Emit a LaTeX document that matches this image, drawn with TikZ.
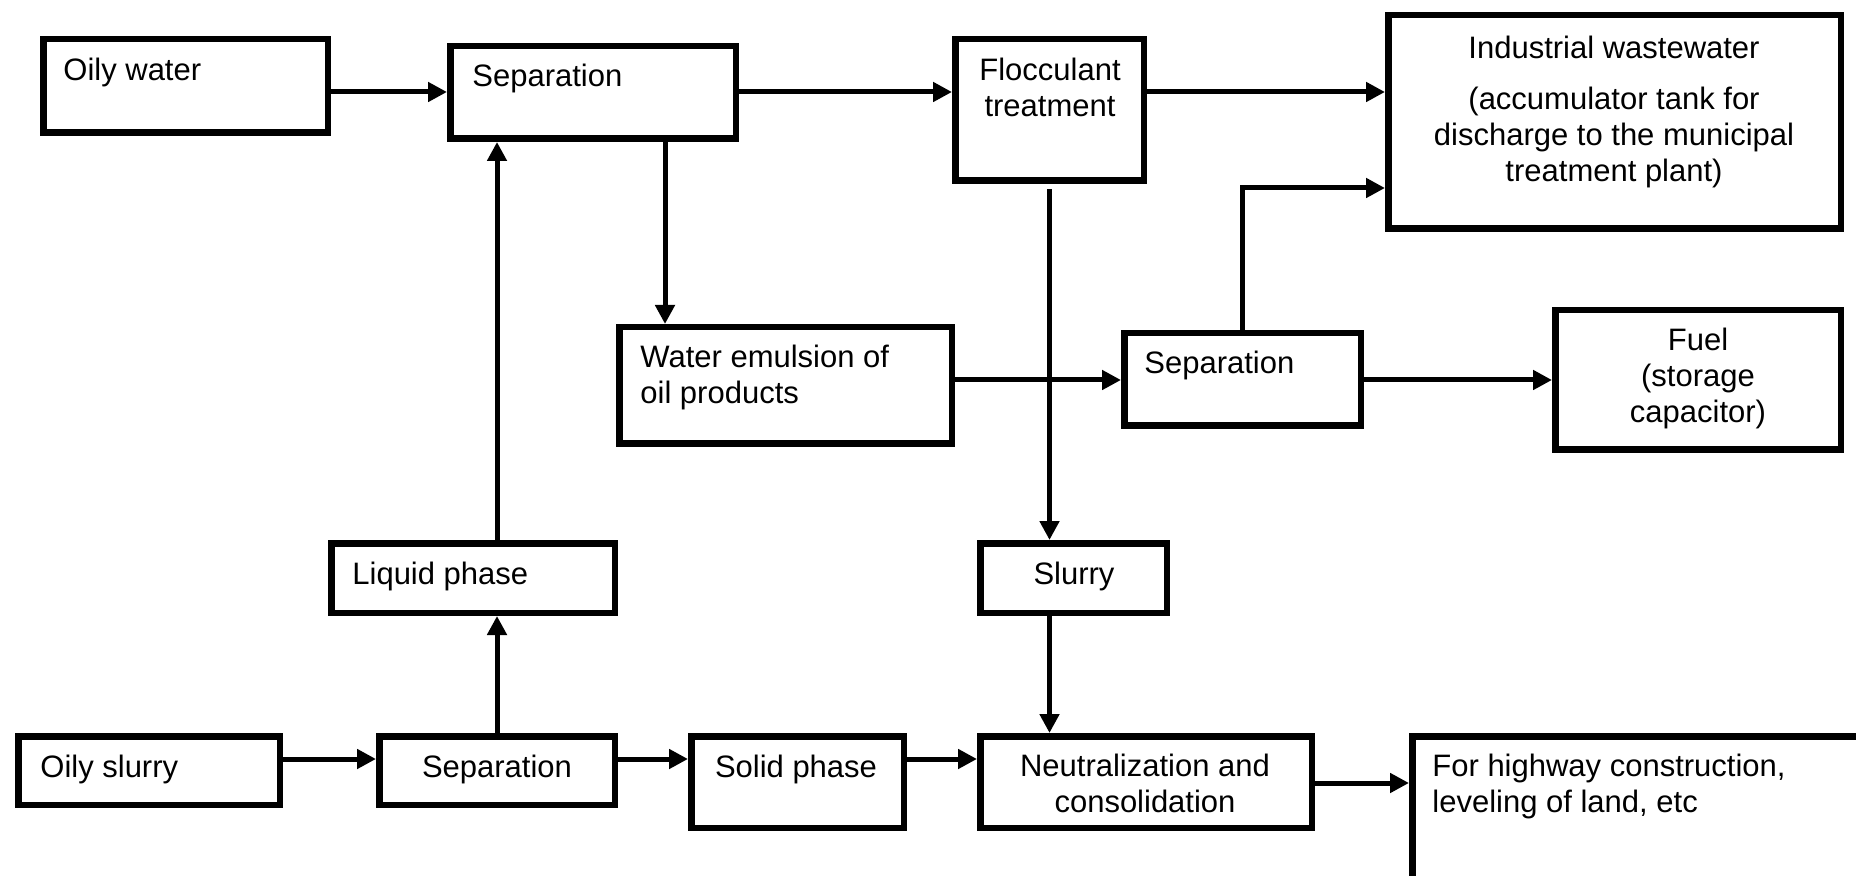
\documentclass[tikz,border=0pt]{standalone}
\usepackage{fontspec}
\setmainfont{Liberation Sans}
\usetikzlibrary{arrows.meta}
\newcommand\mybox[5]{\node[box, minimum width={(#4-#2-6.5)*0.5pt}, minimum height={(#5-#3-6.5)*0.5pt}] (#1) at ({(#2+#4)/2},{(#3+#5)/2}) {};}
\tikzset{
  box/.style={draw=black, line width=3.25pt, inner sep=0pt, fill=white},
  arr/.style={line width=2.5pt, -{Triangle[length=9.5pt,width=9.5pt]}},
  txt/.style={inner sep=0pt, font=\fontsize{15.5}{18}\selectfont},
}
\begin{document}
\begin{tikzpicture}[x=0.5pt,y=-0.5pt]
\useasboundingbox (0,0) rectangle (1856,876);
\clip (0,0) rectangle (1856,876);
% boxes
\mybox{ow}{40}{36}{331}{136}
\mybox{sepa}{447}{43}{739}{142}
\mybox{floc}{952}{36}{1147}{184}
\mybox{ind}{1385}{12}{1844}{232}
\mybox{emu}{616}{324}{955}{447}
\mybox{sepb}{1121}{330}{1364}{429}
\mybox{fuel}{1552}{307}{1844}{453}
\mybox{liq}{328}{540}{618}{616}
\mybox{slur}{977}{540}{1170}{616}
\mybox{os}{15}{733}{283}{808}
\mybox{sepc}{376}{733}{618}{808}
\mybox{solid}{688}{733}{907}{831}
\mybox{neut}{977}{733}{1315}{831}
\mybox{hw}{1409}{733}{1920}{940}
% texts (multi-line nodes are anchored at the baseline of their last line)
\node[txt, anchor=base west] (tow) at (63,81) {Oily water};
\node[txt, anchor=base west] (tsepa) at (472,87) {Separation};
\node[txt, anchor=base, align=center] (tfloc) at (1050,117) {Flocculant\\treatment};
\node[txt, anchor=base, align=center] (tind) at (1614,182) {Industrial wastewater\\[7.5pt](accumulator tank for\\discharge to the municipal\\treatment plant)};
\node[txt, anchor=base west, align=left] (temu) at (640,404) {Water emulsion of\\oil products};
\node[txt, anchor=base west] (tsepb) at (1144,374) {Separation};
\node[txt, anchor=base, align=center] (tfuel) at (1698,423) {Fuel\\(storage\\capacitor)};
\node[txt, anchor=base west] (tliq) at (352,584) {Liquid phase};
\node[txt, anchor=base] (tslur) at (1074,584) {Slurry};
\node[txt, anchor=base west] (tos) at (40,777) {Oily slurry};
\node[txt, anchor=base] (tsepc) at (497,777) {Separation};
\node[txt, anchor=base] (tsolid) at (796,777) {Solid phase};
\node[txt, anchor=base, align=center] (tneut) at (1145,812) {Neutralization and\\consolidation};
\node[txt, anchor=base west, align=left] (thw) at (1432,812) {For highway construction,\\leveling of land, etc};
% connectors
\draw[arr] (ow.east |- 0,92) -- (sepa.west |- 0,92);
\draw[arr] (sepa.east |- 0,92) -- (floc.west |- 0,92);
\draw[arr] (floc.east |- 0,92) -- (ind.west |- 0,92);
\draw[arr] (sepa.south -| 665,0) -- (emu.north -| 665,0);
\draw[arr] (liq.north -| 497,0) -- (sepa.south -| 497,0);
\draw[arr] ([yshift=-2.5pt]floc.south) -- (slur.north -| floc.south);
\draw[arr] (emu.east |- 0,380) -- (sepb.west |- 0,380);
\draw[arr] (sepb.north -| 1242,0) |- (ind.west |- 0,188);
\draw[arr] (sepb.east |- 0,380) -- (fuel.west |- 0,380);
\draw[arr] (slur.south -| floc.south) -- (neut.north -| floc.south);
\draw[arr] (os.east |- 0,759) -- (sepc.west |- 0,759);
\draw[arr] (sepc.north -| 497,0) -- (liq.south -| 497,0);
\draw[arr] (sepc.east |- 0,759) -- (solid.west |- 0,759);
\draw[arr] (solid.east |- 0,759) -- (neut.west |- 0,759);
\draw[arr] (neut.east |- 0,783) -- (hw.west |- 0,783);
\end{tikzpicture}
\end{document}
